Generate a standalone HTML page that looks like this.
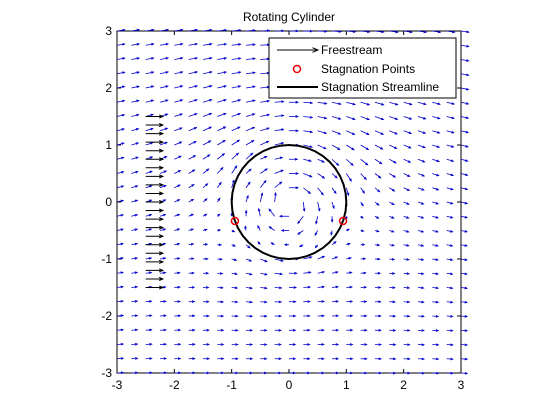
<!DOCTYPE html>
<html><head><meta charset="utf-8"><style>
body{margin:0;background:#fff}
svg{display:block;font-family:"Liberation Sans",sans-serif}
</style></head><body>
<svg id="c" width="560" height="420" viewBox="0 0 560 420"></svg>
<script>
const xTicks=[-3,-2,-1,0,1,2,3];
const yTicks=[-3,-2,-1,0,1,2,3];
const gridVals=[-3,-2.75,-2.5,-2.25,-2,-1.75,-1.5,-1.25,-1,-0.75,-0.5,-0.25,0,0.25,0.5,0.75,1,1.25,1.5,1.75,2,2.25,2.5,2.75,3];
const freeY=[-1.5,-1.35,-1.2,-1.05,-0.9,-0.75,-0.6,-0.45,-0.3,-0.15,0,0.15,0.3,0.45,0.6,0.75,0.9,1.05,1.2,1.35,1.5];
const freeX=[-2.5];
const freeLen=[0.3];
const stagX=[-0.943,0.943];
const stagY=[-0.333,-0.333];
const params=[1,1,0.666]; // U, radius, Gamma/(2*pi)
const NS='http://www.w3.org/2000/svg';
const svg=document.getElementById('c');
const X=v=>117+(v+3)*57.33, Y=v=>31+(3-v)*57;
function mk(t,a,p){const e=document.createElementNS(NS,t);for(const k in a)e.setAttribute(k,a[k]);(p||svg).appendChild(e);return e;}
let ax=mk('rect',{x:117,y:31,width:344,height:342,fill:'#fff',stroke:'#000','stroke-width':1});


xTicks.forEach(v=>{
 mk('line',{x1:X(v),x2:X(v),y1:373,y2:369,stroke:'#000'});mk('line',{x1:X(v),x2:X(v),y1:31,y2:35,stroke:'#000'});
 const t=mk('text',{x:X(v),y:389,'font-size':12,'text-anchor':'middle'});t.textContent=v;
 
 
});
yTicks.forEach(v=>{
 mk('line',{x1:117,x2:121,y1:Y(v),y2:Y(v),stroke:'#000'});mk('line',{x1:461,x2:457,y1:Y(v),y2:Y(v),stroke:'#000'});
 const t=mk('text',{x:112,y:Y(v)+4,'font-size':12,'text-anchor':'end'});t.textContent=v;
 
 
});
function arrow(x1,y1,x2,y2,col,g,hs,w){
 mk('line',{x1,y1,x2,y2,stroke:col,'stroke-width':w},g);
 const a=Math.atan2(y2-y1,x2-x1),h=hs;
 mk('polyline',{points:`${x2-h*Math.cos(a-0.4)},${y2-h*Math.sin(a-0.4)} ${x2},${y2} ${x2-h*Math.cos(a+0.4)},${y2-h*Math.sin(a+0.4)}`,fill:'none',stroke:col,'stroke-width':w},g);
}
const q=mk('g',{});


const [U,R,G]=params;
gridVals.forEach(x=>gridVals.forEach(y=>{
 const r2=x*x+y*y; if(r2<1e-6)return;
 let u,v;
 if(r2>=R*R){u=U*(1-R*R*(x*x-y*y)/(r2*r2))+G*y/r2; v=-U*2*R*R*x*y/(r2*r2)-G*x/r2;}
 else {u=U*0.3+G*y/r2; v=-G*x/r2;}
 const m=Math.hypot(u,v)||1; const L=Math.min(9,Math.max(3,7*Math.min(m,1.4)));
 const x0=X(x),y0=Y(y);
 arrow(x0,y0,x0+L*u/m,y0-L*v/m,'#0000cc',q,2.5,0.8);
}));
const cg=mk('polyline',{fill:'none',stroke:'#000','stroke-width':2,points:Array.from({length:41},(_,i)=>{const t=i/40*2*Math.PI;return X(Math.cos(t))+','+Y(Math.sin(t));}).join(' ')});


const fg=mk('g',{});


freeY.forEach(y=>arrow(X(freeX[0]),Y(y),X(freeX[0]+freeLen[0]),Y(y),'#000',fg,4,1));
stagX.forEach((x,i)=>{const c=mk('circle',{cx:X(x),cy:Y(stagY[i]),r:3.5,fill:'none',stroke:'#e00','stroke-width':1.5});
 
 });
const ti=mk('text',{x:289,y:21,'font-size':12,'text-anchor':'middle'});ti.textContent='Rotating Cylinder';


const lg=mk('g',{});


mk('rect',{x:269,y:38,width:187,height:60,fill:'#fff',stroke:'#000'},lg);
arrow(277,50,318,50,'#000',lg,6,1);
mk('circle',{cx:297,cy:69,r:3.5,fill:'none',stroke:'#e00','stroke-width':1.5},lg);
mk('line',{x1:277,x2:318,y1:87,y2:87,stroke:'#000','stroke-width':2},lg);
[['Freestream',54],['Stagnation Points',73],['Stagnation Streamline',91]].forEach(([s,y])=>{
 const t=mk('text',{x:321,y,'font-size':12},lg);t.textContent=s;
 
 
});
</script>
</body></html>
